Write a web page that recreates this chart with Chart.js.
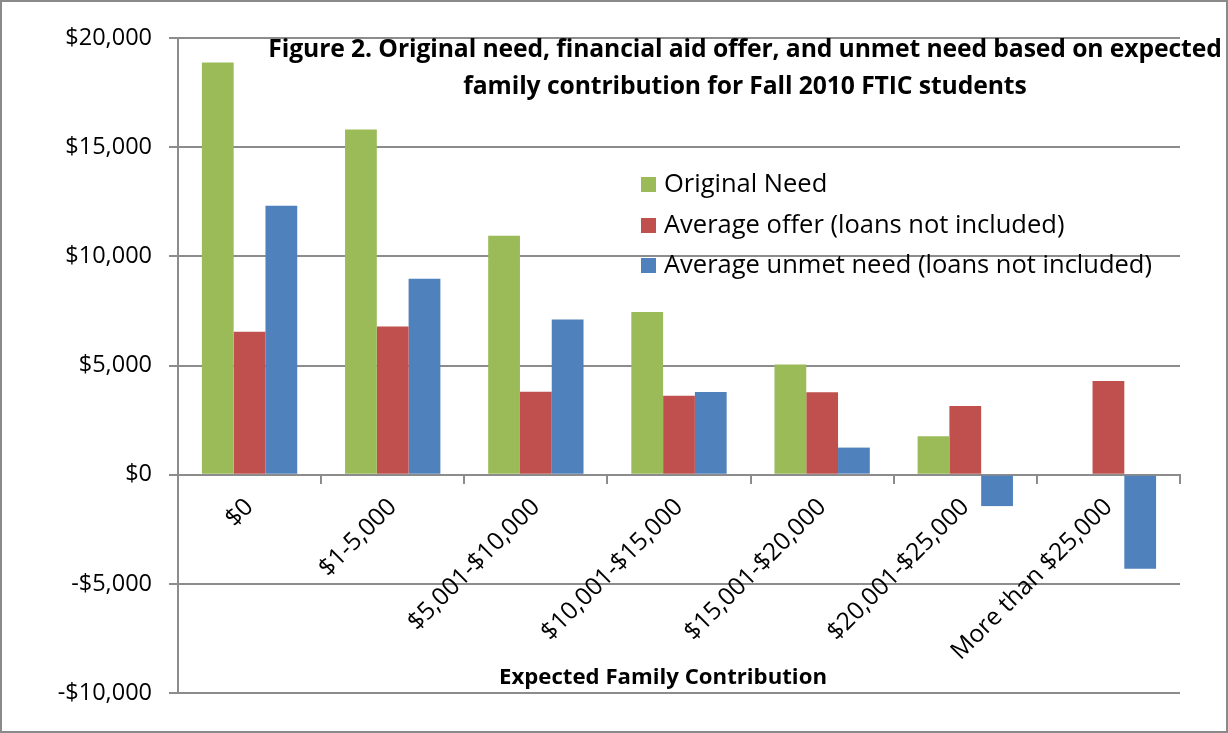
<!DOCTYPE html>
<html>
<head>
<meta charset="utf-8">
<script src="https://cdn.jsdelivr.net/npm/chart.js@4/dist/chart.umd.min.js"></script>
<style>
    body { margin: 0; background: #fff; font-family: 'Open Sans', sans-serif; }
    #wrap { position: relative; width: 1228px; height: 733px; }
    #frame { position: absolute; left: 0; top: 0; width: 1224px; height: 729px; border: 2px solid #8a8a8a; pointer-events: none; }
    #title { position: absolute; left: 235px; width: 1020px; top: 29px; text-align: center; font-weight: 700; font-size: 24.7px; line-height: 37px; color: #000; letter-spacing: -0.1px; }
    #legend { position: absolute; left: 641px; top: 162px; font-size: 25.5px; color: #000; }
    #legend .row { height: 40.5px; line-height: 40px; white-space: nowrap; }
    #legend .sw { display: inline-block; width: 15px; height: 15px; margin-right: 8px; vertical-align: 0px; }
    #xtitle { position: absolute; left: 400px; width: 526px; top: 660px; text-align: center; font-weight: 700; font-size: 22.2px; }
</style>
</head>
<body>
<div id="wrap">
    <canvas id="chart" width="1228" height="733"></canvas>
    <div id="title">Figure 2. Original need, financial aid offer, and unmet need based on expected<br>family contribution for Fall 2010 FTIC students</div>
    <div id="legend"></div>
    <div id="xtitle">Expected Family Contribution</div>
    <div id="frame"></div>
</div>
<script>
const categories = ['$0', '$1-5,000', '$5,001-$10,000', '$10,001-$15,000', '$15,001-$20,000', '$20,001-$25,000', 'More than $25,000'];
const originalNeed = [18880, 15810, 10940, 7450, 5050, 1760, 0];
const averageOffer = [6550, 6790, 3800, 3620, 3770, 3140, 4290];
const unmetNeed = [12320, 8970, 7110, 3790, 1240, -1440, -4310];
const yTicks = [-10000, -5000, 0, 5000, 10000, 15000, 20000];

const seriesNames = ['Original Need', 'Average offer (loans not included)', 'Average unmet need (loans not included)'];
const COLORS = ['#9BBB59', '#C0504D', '#4F81BD'];
const GRID = '#8c8c8c';

function money(v) {
    const s = '$' + Math.abs(v).toLocaleString('en-US');
    return v < 0 ? '-' + s : s;
}

const chart = new Chart(document.getElementById('chart').getContext('2d'), {
    type: 'bar',
    data: {
        labels: categories,
        datasets: [originalNeed, averageOffer, unmetNeed].map((d, i) => ({
            label: seriesNames[i],
            data: d,
            backgroundColor: COLORS[i],
            borderWidth: 0,
            categoryPercentage: 0.666,
            barPercentage: 1.0
        }))
    },
    options: {
        responsive: false,
        animation: false,
        layout: { padding: { left: 0, top: 38, right: 48, bottom: 40 } },
        plugins: { legend: { display: false }, tooltip: { enabled: false } },
        scales: {
            x: {
                position: { y: 0 },
                grid: { drawOnChartArea: false, drawTicks: true, tickLength: 8, color: GRID, lineWidth: 2, offset: true },
                border: { display: true, color: GRID, width: 2 },
                ticks: {
                    color: '#000', font: { family: 'Open Sans', size: 24.5 },
                    minRotation: 45, maxRotation: 45, padding: 10, autoSkip: false
                }
            },
            y: {
                min: -10000, max: 20000,
                afterBuildTicks: s => { s.ticks = yTicks.map(v => ({ value: v })); },
                afterFit: s => { s.width = 178; },
                grid: { color: GRID, lineWidth: 2, tickLength: 9, drawTicks: true },
                border: { display: true, color: GRID, width: 2 },
                ticks: {
                    color: '#000', font: { family: 'Open Sans', size: 23.5 }, padding: 17,
                    callback: v => money(v)
                }
            }
        }
    }
});

// legend inside the plot, built from the datasets
const leg = document.getElementById('legend');
chart.data.datasets.forEach(ds => {
    const row = document.createElement('div');
    row.className = 'row';
    row.innerHTML = `<span class="sw" style="background:${ds.backgroundColor}"></span>${ds.label}`;
    leg.appendChild(row);
});
</script>
</body>
</html>
